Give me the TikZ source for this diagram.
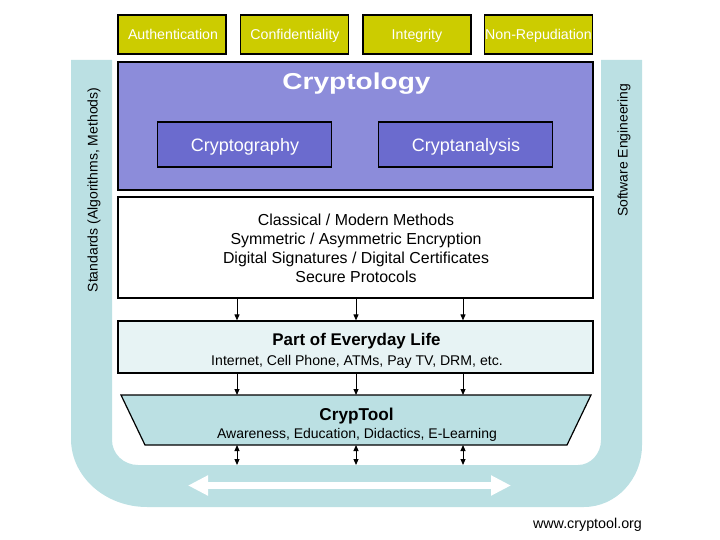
\documentclass[tikz,border=0pt]{standalone}
\usepackage{fontspec}
\usepackage{graphicx}
\setmainfont{Liberation Sans}
\usetikzlibrary{arrows.meta}
\definecolor{olive}{HTML}{CCCC00}
\definecolor{lav}{HTML}{8C8CDA}
\definecolor{lavdark}{HTML}{6B6BCE}
\definecolor{teal}{HTML}{BBE0E3}
\definecolor{pale}{HTML}{E7F3F4}
\tikzset{
  goalbox/.style={draw=black, line width=1.2pt, fill=olive, minimum width=108pt, minimum height=39pt, inner sep=0pt},
  subbox/.style={draw=black, line width=1.2pt, fill=lavdark, minimum width=174pt, minimum height=45pt, inner sep=0pt},
  bigbox/.style={draw=black, line width=1.2pt, minimum width=475pt, inner sep=0pt},
  lbl/.style={inner sep=0pt, anchor=base},
  arr/.style={line width=1pt, -{Triangle[width=5pt,length=6pt]}},
  darr/.style={line width=1pt, {Triangle[width=5pt,length=6pt]}-{Triangle[width=5pt,length=6pt]}},
}
\begin{document}
\begin{tikzpicture}[x=1pt,y=-1pt]
\useasboundingbox (0,0) rectangle (720,540);
% U band
\fill[teal] (71,60) -- (71,439) arc[start angle=180, end angle=90, x radius=76, y radius=68]
  -- (584,507) arc[start angle=90, end angle=0, x radius=58, y radius=62]
  -- (642,60) -- (601,60) -- (601,440) arc[start angle=0, end angle=90, x radius=23, y radius=25]
  -- (138,465) arc[start angle=90, end angle=180, x radius=26, y radius=25] -- (112,60) -- cycle;
\node[lbl, rotate=90, font=\fontsize{14}{16}\selectfont] (std) at (97.5,190) {Standards (Algorithms, Methods)};
\node[lbl, rotate=90, font=\fontsize{13.9}{16}\selectfont] (swe) at (627.5,150.5) {Software Engineering};
% goals
\node[goalbox] (auth) at (172,34.5) {};
\node[goalbox] (conf) at (294.5,34.5) {};
\node[goalbox] (integ) at (417,34.5) {};
\node[goalbox] (nonrep) at (538.5,34.5) {};
\tikzset{gl/.style={lbl, text=white, font=\fontsize{14.2}{16}\selectfont}}
\node[gl] (authl) at (173,40) {Authentication};
\node[gl] (confl) at (295,40) {Confidentiality};
\node[gl] (integl) at (417,40) {Integrity};
\node[gl] (nonrepl) at (538.5,40) {Non-Repudiation};
% cryptology
\node[bigbox, fill=lav, minimum height=128pt] (cryptology) at (355.5,126) {};
\node[lbl, text=white, font=\bfseries\fontsize{23}{26}\selectfont] (ctitle) at (356.5,89.5) {\scalebox{1.22}[1]{Cryptology}};
\node[subbox] (cgraphy) at (244.5,144.5) {};
\node[subbox] (canal) at (465.5,144.5) {};
\node[lbl, text=white, font=\fontsize{18}{20}\selectfont] (cgraphyl) at (245,152) {Cryptography};
\node[lbl, text=white, font=\fontsize{18}{20}\selectfont] (canall) at (466,152) {Cryptanalysis};
% methods
\node[bigbox, fill=white, minimum height=101pt] (methods) at (355.5,247.5) {};
\tikzset{ml/.style={lbl, font=\fontsize{15.9}{19}\selectfont}}
\node[ml] (m1) at (356,225.7) {Classical / Modern Methods};
\node[ml] (m2) at (356,244.5) {Symmetric / Asymmetric Encryption};
\node[ml] (m3) at (356,263.8) {Digital Signatures / Digital Certificates};
\node[ml] (m4) at (356,282.8) {Secure Protocols};
% everyday life
\node[bigbox, fill=pale, minimum height=52pt] (life) at (355.5,347) {};
\node[lbl, font=\bfseries\fontsize{16.9}{19}\selectfont] (ltitle) at (356.5,345.7) {Part of Everyday Life};
\node[lbl, font=\fontsize{14.1}{15}\selectfont] (lsub) at (357,365.7) {Internet, Cell Phone, ATMs, Pay TV, DRM, etc.};
% cryptool trapezoid
\coordinate (ctn) at (356,395);
\coordinate (cts) at (356,445);
\draw[line width=1.2pt, fill=teal] (121,395) -- (591,395) -- (567,445) -- (145,445) -- cycle;
\node[lbl, font=\bfseries\fontsize{17.2}{19}\selectfont] (cttitle) at (356.5,420) {CrypTool};
\node[lbl, font=\fontsize{14}{15}\selectfont] (ctsub) at (357,438.3) {Awareness, Education, Didactics, E-Learning};
% arrow columns
\coordinate (c1) at (237,0);
\coordinate (c2) at (356,0);
\coordinate (c3) at (463,0);
\coordinate (ub) at (356,465);
\foreach \c in {c1,c2,c3}{
  \draw[arr] (methods.south -| \c) -- (life.north -| \c);
  \draw[arr] (life.south -| \c) -- (ctn -| \c);
  \draw[darr] (cts -| \c) -- (ub -| \c);
}
% white double arrow
\coordinate (wl) at (188,485.5);
\coordinate (wr) at (511,485.5);
\draw[white, line width=7pt, {Triangle[width=19pt,length=20pt]}-{Triangle[width=19pt,length=20pt]}] (wl) -- (wr);
% url
\node[lbl, font=\fontsize{14.3}{15}\selectfont] (url) at (587.5,528) {www.cryptool.org};
\end{tikzpicture}
\end{document}
